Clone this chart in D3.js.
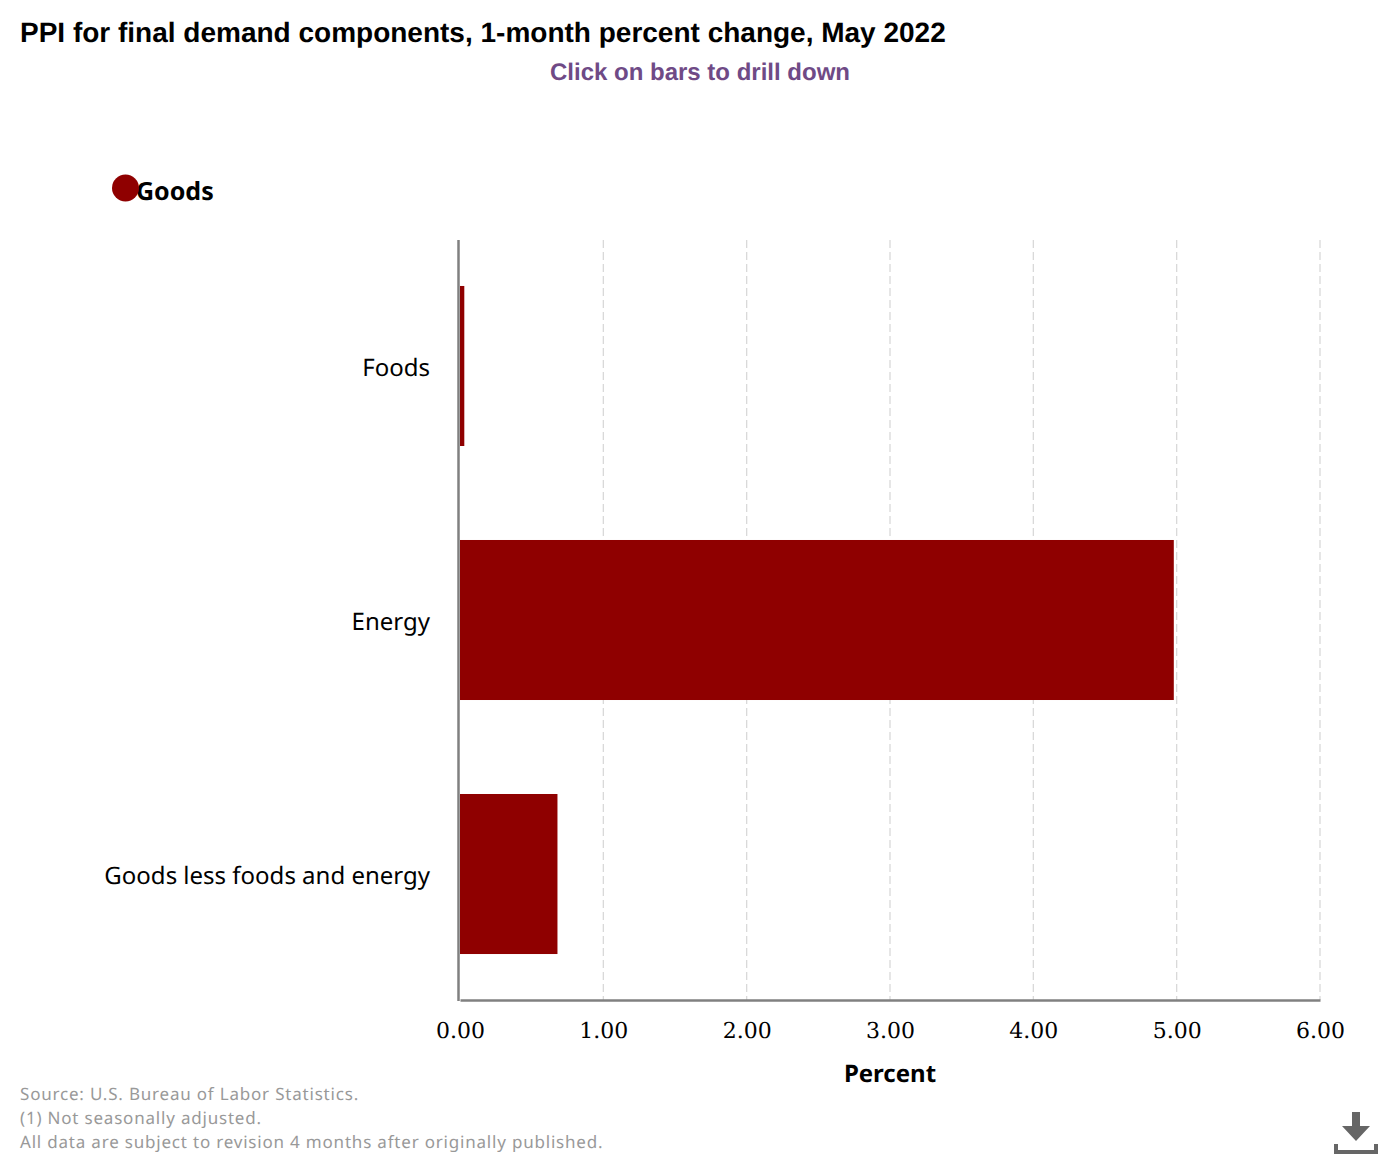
<!DOCTYPE html>
<html>
<head>
<meta charset="utf-8">
<script src="https://cdn.jsdelivr.net/npm/d3@7"></script>
<style>
  html, body { margin: 0; padding: 0; background: #fff; }
  text { text-rendering: geometricPrecision; }
</style>
</head>
<body>
<div id="chart"></div>
<script>
// The data
const categories = ["Foods", "Energy", "Goods less foods and energy"];
const goodsValues = [0.03, 4.98, 0.68];
const tickValues = [0, 1, 2, 3, 4, 5, 6];
const sourceNotes = [
  "Source: U.S. Bureau of Labor Statistics.",
  "(1) Not seasonally adjusted.",
  "All data are subject to revision 4 months after originally published."
];

const WIDTH = 1400;
const HEIGHT = 1160;
const BAR_COLOR = "#8f0000";
const SANS = "'Noto Sans', 'Open Sans', sans-serif";

const svg = d3
  .select("#chart")
  .append("svg")
  .attr("width", WIDTH)
  .attr("height", HEIGHT)
  .style("display", "block");

// Scales
const x = d3.scaleLinear().domain([0, 6]).range([460, 1320]);
const y = d3.scaleBand().domain(categories).range([240, 1000]).paddingInner(0.37).paddingOuter(0.181);

// Title and subtitle
svg.append("text")
  .attr("x", 20).attr("y", 42)
  .attr("font-family", "'Liberation Sans', Arial, sans-serif")
  .attr("font-size", 28).attr("font-weight", "bold").attr("fill", "#000")
  .text("PPI for final demand components, 1-month percent change, May 2022");

svg.append("text")
  .attr("x", 700).attr("y", 80).attr("text-anchor", "middle")
  .attr("font-family", "'Liberation Sans', Arial, sans-serif")
  .attr("font-size", 24).attr("font-weight", "bold").attr("fill", "#6f4a86")
  .text("Click on bars to drill down");

// Legend
svg.append("text")
  .attr("x", 136).attr("y", 200)
  .attr("font-family", SANS).attr("font-size", 25).attr("font-weight", "bold").attr("fill", "#000")
  .text("Goods");
svg.append("circle").attr("cx", 125.5).attr("cy", 188).attr("r", 13.5).attr("fill", BAR_COLOR);

// Gridlines
svg.append("g")
  .selectAll("line")
  .data(tickValues.slice(1))
  .enter()
  .append("line")
  .attr("x1", (d) => x(d)).attr("x2", (d) => x(d))
  .attr("y1", 240).attr("y2", 1000)
  .attr("stroke", "#d9d9d9").attr("stroke-width", 1.3).attr("stroke-dasharray", "8,4");

// Bars
svg.append("g")
  .selectAll("rect")
  .data(goodsValues)
  .enter()
  .append("rect")
  .attr("x", x(0))
  .attr("y", (d, i) => y(categories[i]))
  .attr("width", (d) => x(d) - x(0))
  .attr("height", y.bandwidth())
  .attr("fill", BAR_COLOR);

// Category axis
const yAxis = svg.append("g")
  .attr("transform", `translate(${x(0)}, 0)`)
  .call(d3.axisLeft(y).tickSize(0).tickPadding(30));
yAxis.select(".domain").remove();
yAxis.selectAll("text")
  .attr("font-family", SANS).attr("font-size", 24).attr("fill", "#000")
  .attr("dy", "0.42em");

svg.append("line")
  .attr("x1", 458.5).attr("x2", 458.5).attr("y1", 240).attr("y2", 1001)
  .attr("stroke", "#808080").attr("stroke-width", 2.5);

// Value axis
const xAxis = svg.append("g")
  .attr("transform", "translate(0, 1000)")
  .call(d3.axisBottom(x).tickValues(tickValues).tickFormat(d3.format(".2f")).tickSize(0).tickPadding(22));
xAxis.select(".domain").attr("stroke", "#808080").attr("stroke-width", 2.5);
xAxis.selectAll("text")
  .attr("font-family", "'DejaVu Serif', serif").attr("font-size", 22).attr("fill", "#000");

svg.append("text")
  .attr("x", 890).attr("y", 1082).attr("text-anchor", "middle")
  .attr("font-family", SANS).attr("font-size", 24).attr("font-weight", "bold").attr("fill", "#000")
  .text("Percent");

// Source notes
svg.append("g")
  .selectAll("text")
  .data(sourceNotes)
  .enter()
  .append("text")
  .attr("x", 20)
  .attr("y", (d, i) => 1099.5 + i * 24)
  .attr("font-family", SANS)
  .attr("font-size", 17).attr("letter-spacing", 0.8).attr("fill", "#999")
  .text((d) => d);

// Download icon
const icon = svg.append("g").attr("fill", "#666");
icon.append("path").attr("d", "M1352 1112h8v14h10l-14 15l-14 -15h10z");
icon.append("path").attr("d", "M1334 1144h4v6h36v-6h4v10h-44z");
</script>
</body>
</html>
